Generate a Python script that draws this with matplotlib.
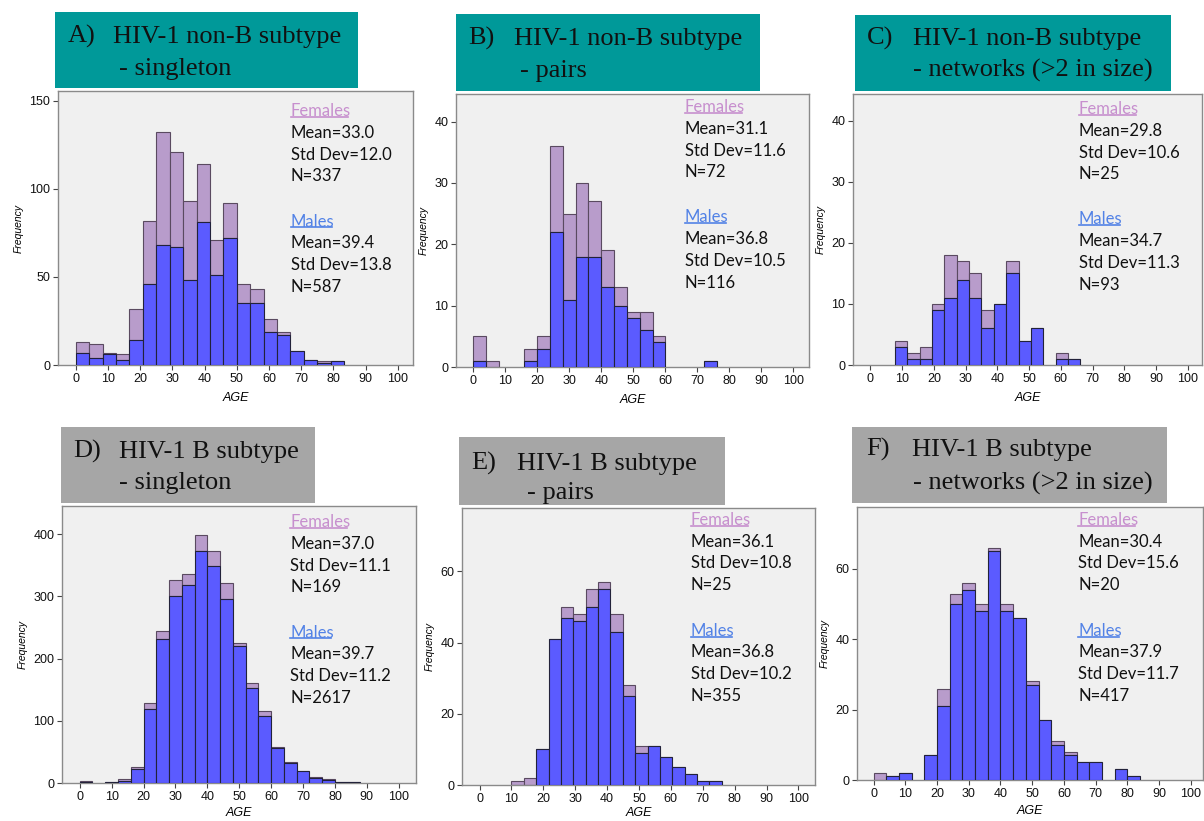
import matplotlib
matplotlib.use("Agg")
import matplotlib.pyplot as plt
from matplotlib.patches import Rectangle
from matplotlib.lines import Line2D
import numpy as np

# ---------------- data ----------------
panel_ids = ["A", "B", "C", "D", "E", "F"]
title_line1 = ["HIV-1 non-B subtype", "HIV-1 non-B subtype", "HIV-1 non-B subtype",
               "HIV-1 B subtype", "HIV-1 B subtype", "HIV-1 B subtype"]
title_line2 = ["- singleton", "- pairs", "- networks (>2 in size)",
               "- singleton", "- pairs", "- networks (>2 in size)"]

# histogram bins (start age, bin width)
bin_start = [0, 0, 7.7, 0, 10, 0]
bin_width = [100 / 24, 4, 3.9, 4, 3.88, 4]

# stacked counts: males (bottom) and totals (males + females)
males_A = [7, 4, 6, 3, 14, 46, 68, 67, 48, 81, 51, 72, 35, 35, 19, 17, 8, 3, 1, 2]
total_A = [13, 12, 7, 6, 32, 82, 132, 121, 93, 114, 71, 92, 46, 43, 26, 19, 8, 3, 2, 2]

males_B = [1, 0, 0, 0, 1, 3, 22, 11, 18, 18, 13, 10, 8, 6, 4, 0, 0, 0, 1]
total_B = [5, 1, 0, 0, 3, 5, 36, 25, 30, 27, 19, 13, 9, 9, 5, 0, 0, 0, 1]

males_C = [3, 1, 1, 9, 11, 14, 11, 6, 10, 15, 4, 6, 0, 1, 1]
total_C = [4, 2, 3, 10, 18, 17, 15, 9, 10, 17, 4, 6, 0, 2, 1]

males_D = [1, 0, 1, 3, 23, 119, 231, 301, 318, 373, 349, 296, 220, 152, 108, 57, 32, 19, 8, 5, 1, 1]
total_D = [3, 0, 1, 6, 25, 128, 244, 326, 336, 399, 373, 321, 225, 160, 115, 58, 33, 19, 9, 6, 2, 1]

males_E = [0, 0, 10, 41, 47, 46, 50, 55, 43, 25, 9, 11, 8, 5, 3, 1, 1]
total_E = [1, 2, 10, 41, 50, 48, 55, 57, 48, 28, 11, 11, 8, 5, 3, 1, 1]

males_F = [0, 1, 2, 0, 7, 21, 50, 54, 48, 65, 48, 46, 27, 17, 10, 7, 5, 5, 0, 3, 1]
total_F = [2, 1, 2, 0, 7, 26, 53, 56, 50, 66, 50, 46, 28, 17, 11, 8, 5, 5, 0, 3, 1]

males_all = [males_A, males_B, males_C, males_D, males_E, males_F]
totals_all = [total_A, total_B, total_C, total_D, total_E, total_F]

female_stats = [("33.0", "12.0", "337"), ("31.1", "11.6", "72"), ("29.8", "10.6", "25"),
                ("37.0", "11.1", "169"), ("36.1", "10.8", "25"), ("30.4", "15.6", "20")]
male_stats = [("39.4", "13.8", "587"), ("36.8", "10.5", "116"), ("34.7", "11.3", "93"),
              ("39.7", "11.2", "2617"), ("36.8", "10.2", "355"), ("37.9", "11.7", "417")]

yticks_all = [[0, 50, 100, 150], [0, 10, 20, 30, 40], [0, 10, 20, 30, 40],
              [0, 100, 200, 300, 400], [0, 20, 40, 60], [0, 20, 40, 60]]
xticks = list(range(0, 101, 10))

# ---------------- layout (pixels) ----------------
W, H = 1204, 821
fig = plt.figure(figsize=(W / 100, H / 100), dpi=100)
fig.patch.set_facecolor("white")

# axes boxes: left, top, right, bottom
ax_px = [(58, 91, 413, 365), (456, 94, 809, 367), (853, 94, 1202, 365),
         (62, 506, 416, 783), (462, 508, 815, 785), (857, 507, 1203, 780)]
xlims = [(-5.5, 104.7), (-5.4, 104.9), (-5.5, 104.5), (-5.55, 105.4), (-5.5, 105.2), (-5.2, 103.8)]
ylims = [155.5, 44.5, 44.4, 445, 77.8, 77.6]
xlabel_pads = [5, 5, 5, 3, 1.5, 4]

# title boxes: left, top, right, bottom, color
box_px = [(55, 12, 358, 88), (456, 14, 760, 91), (855, 15, 1171, 91),
          (61, 427, 315, 503), (459, 437, 725, 505), (852, 427, 1167, 503)]
box_colors = ["#009999"] * 3 + ["#a6a6a6"] * 3
lab_x = [68, 468, 867, 73, 471, 866]
main_x = [113, 514, 913, 119, 517, 912]
line2_x = [119, 520, 913, 119, 527, 913]
base1 = [43, 45, 45, 458, 470, 456]
base2 = [75, 77, 77, 489, 499, 490]

# stats text anchor (left x, center y of "Females")
stat_xy = [(291, 111), (685, 107), (1079, 109), (290, 522), (691, 520), (1078, 520)]
offsets = [0, 22, 43.5, 65, 110.5, 132, 154, 175.5]

female_col = "#c78fce"
male_col = "#5282e6"
blue_bar = "#5b5bff"
purple_bar = "#b89ccb"


def fx(x):
    return x / W


def fy(y):
    return 1 - y / H


underline_texts = []

for i in range(6):
    l, t, r, b = ax_px[i]
    ax = fig.add_axes([fx(l), fy(b), (r - l) / W, (b - t) / H])
    ax.set_facecolor("#f0f0f0")
    m = np.array(males_all[i], dtype=float)
    tot = np.array(totals_all[i], dtype=float)
    fem = tot - m
    edges = bin_start[i] + bin_width[i] * np.arange(len(m))
    nz = tot > 0
    ax.bar(edges[nz], fem[nz], width=bin_width[i], bottom=m[nz], align="edge",
           color=purple_bar, edgecolor="#5a4a60", linewidth=0.8, zorder=2)
    mz = m > 0
    ax.bar(edges[mz], m[mz], width=bin_width[i], align="edge",
           color=blue_bar, edgecolor="#22223a", linewidth=0.8, zorder=3)
    ax.set_xlim(*xlims[i])
    ax.set_ylim(0, ylims[i])
    ax.set_xticks(xticks)
    ax.set_yticks(yticks_all[i])
    ax.tick_params(axis="both", direction="out", length=3.5, width=0.8, color="#444444",
                   labelsize=9, labelcolor="#111111", pad=2)
    for lab in ax.get_xticklabels() + ax.get_yticklabels():
        lab.set_fontfamily("Liberation Sans")
    for sp in ax.spines.values():
        sp.set_color("#8a8a8a")
        sp.set_linewidth(1.0)
    ax.set_xlabel("AGE", fontsize=9, fontstyle="italic", family="Liberation Sans",
                  labelpad=xlabel_pads[i])
    ax.set_ylabel("Frequency", fontsize=7.5, fontstyle="italic", family="Liberation Sans",
                  labelpad=4)

    # title box
    bl, bt, br, bb = box_px[i]
    fig.patches.append(Rectangle((fx(bl), fy(bb)), (br - bl) / W, (bb - bt) / H,
                                 transform=fig.transFigure, facecolor=box_colors[i],
                                 edgecolor="none", zorder=0))
    fig.text(fx(lab_x[i]), fy(base1[i]), panel_ids[i] + ")", family="Liberation Serif",
             fontsize=19, va="baseline", ha="left", color="#111111")
    fig.text(fx(main_x[i]), fy(base1[i]), title_line1[i], family="Liberation Serif",
             fontsize=19, va="baseline", ha="left", color="#111111")
    fig.text(fx(line2_x[i]), fy(base2[i]), title_line2[i], family="Liberation Serif",
             fontsize=19, va="baseline", ha="left", color="#111111")

    # stats text
    sx, sy = stat_xy[i]
    fs = female_stats[i]
    ms = male_stats[i]
    lines = [("Females", female_col), ("Mean=" + fs[0], "#111111"),
             ("Std Dev=" + fs[1], "#111111"), ("N=" + fs[2], "#111111"),
             ("Males", male_col), ("Mean=" + ms[0], "#111111"),
             ("Std Dev=" + ms[1], "#111111"), ("N=" + ms[2], "#111111")]
    for k, (txt, col) in enumerate(lines):
        tt = fig.text(fx(sx), fy(sy + offsets[k]), txt, family="Lato", fontsize=12,
                      va="center", ha="left", color=col, zorder=5)
        if k in (0, 4):
            underline_texts.append((tt, col))

fig.canvas.draw()
renderer = fig.canvas.get_renderer()
for tt, col in underline_texts:
    bb = tt.get_window_extent(renderer)
    y = bb.y0 + 2.0
    fig.add_artist(Line2D([bb.x0 / W, (bb.x1 - 3) / W], [y / H, y / H],
                          transform=fig.transFigure, color=col, linewidth=1.2))

fig.savefig("out.png", dpi=100, facecolor="white")
